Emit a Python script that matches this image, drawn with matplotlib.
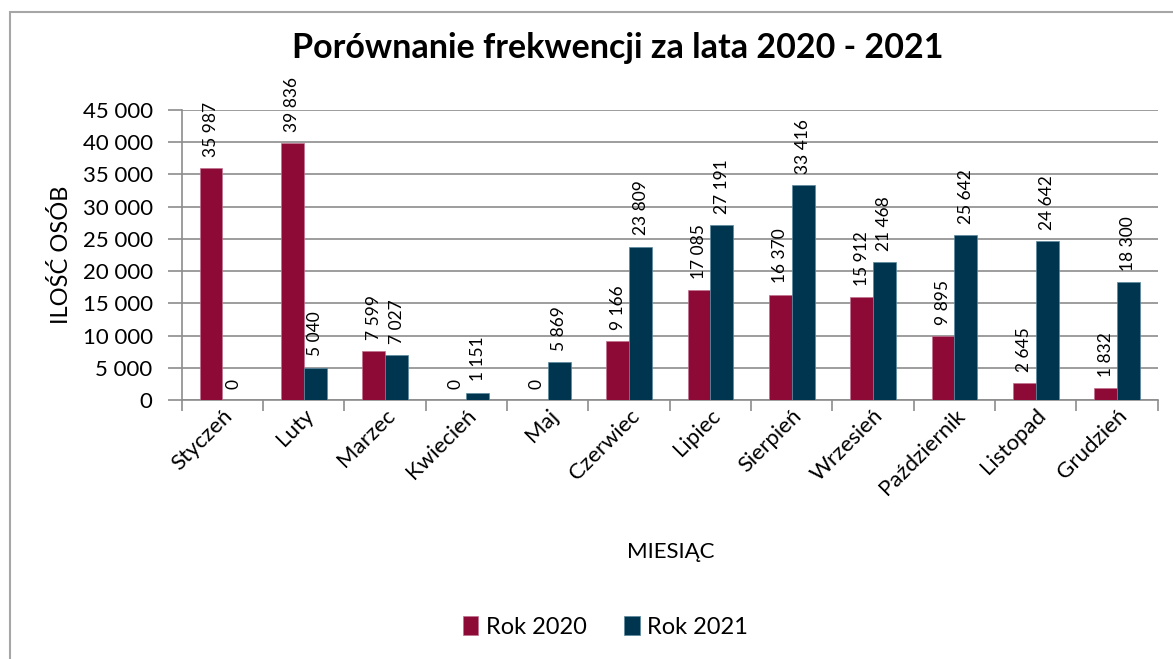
import numpy as np
import matplotlib.pyplot as plt
from matplotlib.patches import Rectangle

# data
months = ['Styczeń', 'Luty', 'Marzec', 'Kwiecień', 'Maj', 'Czerwiec', 'Lipiec',
          'Sierpień', 'Wrzesień', 'Październik', 'Listopad', 'Grudzień']
rok_2020 = [35987, 39836, 7599, 0, 0, 9166, 17085, 16370, 15912, 9895, 2645, 1832]
rok_2021 = [0, 5040, 7027, 1151, 5869, 23809, 27191, 33416, 21468, 25642, 24642, 18300]
yticks = [0, 5000, 10000, 15000, 20000, 25000, 30000, 35000, 40000, 45000]

c2020 = '#8c0a35'
c2021 = '#00354f'
grid_c = '#8c8c8c'

plt.rcParams['font.family'] = ['Lato', 'DejaVu Sans']


def fmt(v):
    return f'{v:,}'.replace(',', ' ')


fig = plt.figure(figsize=(11.73, 6.59), dpi=100)
ax = fig.add_axes([0.155, 0.393, 0.832, 0.44])

# chart frame
fig.patches.append(Rectangle((10 / 1173, -0.1), 1.2, 1 - 12 / 659 + 0.1,
                             transform=fig.transFigure, fill=False,
                             edgecolor='#a6a6a6', linewidth=1.5))

x = np.arange(len(months))
w = 0.28
ax.bar(x - w / 2, rok_2020, w, color=c2020, edgecolor='#c07090', linewidth=0.5,
       label='Rok 2020', zorder=3)
ax.bar(x + w / 2, rok_2021, w, color=c2021, edgecolor='#5a8aa0', linewidth=0.5,
       label='Rok 2021', zorder=3)

for xi, v in zip(x - w / 2, rok_2020):
    ax.annotate(fmt(v), (xi, v), xytext=(0, 8), textcoords='offset points',
                rotation=90, ha='center', va='bottom', fontsize=12.5)
for xi, v in zip(x + w / 2, rok_2021):
    ax.annotate(fmt(v), (xi, v), xytext=(0, 8), textcoords='offset points',
                rotation=90, ha='center', va='bottom', fontsize=12.5)

ax.set_xlim(-0.5, len(months) - 0.5)
ax.set_ylim(0, 45000)
ax.set_yticks(yticks)
ax.set_yticklabels([fmt(t) for t in yticks], fontsize=16)
ax.yaxis.grid(True, color=grid_c, linewidth=1.2, zorder=0)
ax.set_axisbelow(True)

# category boundary ticks
ax.set_xticks(np.arange(-0.5, len(months), 1))
ax.set_xticklabels([])
ax.set_xticks(x, minor=True)
ax.set_xticklabels(months, minor=True, rotation=45, ha='right',
                   rotation_mode='anchor', fontsize=16)
ax.tick_params(axis='x', which='minor', length=0, pad=4)
ax.tick_params(axis='x', which='major', length=8, color=grid_c, width=1.2)
ax.tick_params(axis='y', length=10, color=grid_c, width=1.2, pad=11)

for s in ['top', 'right']:
    ax.spines[s].set_visible(False)
ax.spines['left'].set_color(grid_c)
ax.spines['bottom'].set_color(grid_c)
ax.spines['left'].set_linewidth(1.2)
ax.spines['bottom'].set_linewidth(1.2)

fig.text(0.527, 0.927, 'Porównanie frekwencji za lata 2020 - 2021',
         ha='center', va='center', fontsize=24.5, fontweight='bold')
fig.text(0.572, 0.163, 'MIESIĄC', ha='center', va='center', fontsize=16)
fig.text(0.052, 0.613, 'ILOŚĆ OSÓB', ha='center', va='center', rotation=90,
         fontsize=17)

fig.legend(loc='center', bbox_to_anchor=(0.516, 0.049), ncol=2, frameon=False,
           fontsize=17, handlelength=0.65, handleheight=0.9, handletextpad=0.3,
           columnspacing=1.6)

fig.savefig('out.png', dpi=100)
